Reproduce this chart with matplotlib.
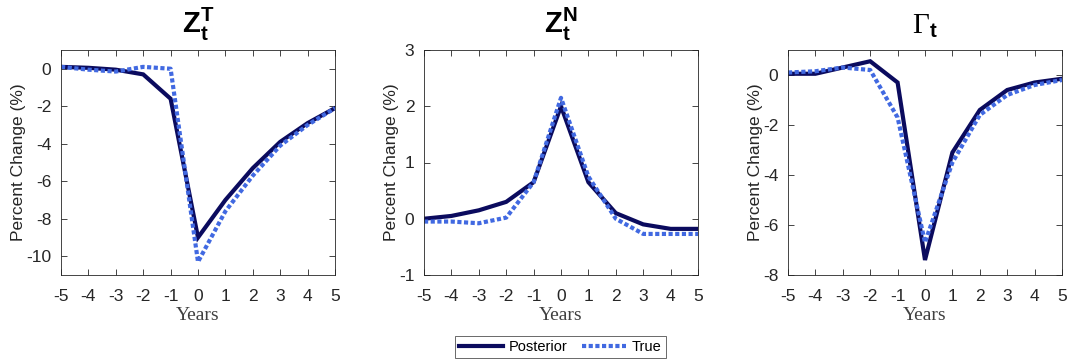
import matplotlib
matplotlib.use('Agg')
import matplotlib.pyplot as plt
from matplotlib.lines import Line2D

plt.rcParams['font.family'] = ['Liberation Sans', 'DejaVu Sans']
plt.rcParams['axes.unicode_minus'] = False
plt.rcParams['mathtext.fontset'] = 'custom'
plt.rcParams['mathtext.rm'] = 'Liberation Serif'
plt.rcParams['mathtext.it'] = 'Liberation Serif:italic'
plt.rcParams['mathtext.bf'] = 'Liberation Sans:bold'

years = [-5, -4, -3, -2, -1, 0, 1, 2, 3, 4, 5]

# Z_t^T
zt_post = [0.1, 0.05, -0.05, -0.3, -1.6, -9.0, -7.0, -5.3, -3.9, -2.9, -2.1]
zt_true = [0.1, -0.05, -0.15, 0.1, 0.0, -10.3, -7.6, -5.7, -4.1, -3.0, -2.1]
# Z_t^N
zn_post = [0.0, 0.05, 0.15, 0.3, 0.65, 2.0, 0.65, 0.1, -0.1, -0.18, -0.18]
zn_true = [-0.05, -0.05, -0.08, 0.02, 0.65, 2.15, 0.75, 0.0, -0.27, -0.27, -0.27]
# Gamma_t
gm_post = [0.05, 0.05, 0.3, 0.55, -0.3, -7.4, -3.1, -1.4, -0.6, -0.3, -0.15]
gm_true = [0.1, 0.15, 0.3, 0.2, -1.7, -6.7, -3.5, -1.6, -0.8, -0.4, -0.2]

titles = [r'$\mathbf{Z_t^T}$', r'$\mathbf{Z_t^N}$', r'$\Gamma_{\mathbf{t}}$']
posts = [zt_post, zn_post, gm_post]
trues = [zt_true, zn_true, gm_true]
ylims = [(-11, 1), (-1, 3), (-8, 1)]
yticks = [[-10, -8, -6, -4, -2, 0], [-1, 0, 1, 2, 3], [-8, -6, -4, -2, 0]]
lefts = [61, 424, 788]

navy = '#0b0b5e'
blue = '#4169e1'

fig = plt.figure(figsize=(10.69, 3.62), dpi=100)
W, H = 1069, 362
for i in range(3):
    ax = fig.add_axes([lefts[i] / W, 1 - 275 / H, 274 / W, 225 / H])
    ax.plot(years, posts[i], color=navy, lw=3.0, solid_joinstyle='miter')
    ax.plot(years, trues[i], color=blue, lw=3.0, linestyle=(0, (1.0, 0.6)))
    ax.set_xlim(-5, 5)
    ax.set_ylim(*ylims[i])
    ax.set_xticks(years)
    ax.set_yticks(yticks[i])
    ax.tick_params(direction='in', top=True, right=True, labelsize=12.5,
                   colors='#262626', length=4, width=0.6)
    ax.tick_params(axis='x', pad=10)
    ax.tick_params(axis='y', pad=7)
    for s in ax.spines.values():
        s.set_color('#262626')
        s.set_linewidth(0.6)
    ax.set_xlabel('Years', family='Liberation Serif', fontsize=14, color='#404040', labelpad=2)
    ax.set_ylabel('Percent Change (%)', fontsize=12.5, color='#262626', labelpad=0)
    ax.set_title(titles[i], fontsize=21, pad=12)

handles = [Line2D([], [], color=navy, lw=3.0),
           Line2D([], [], color=blue, lw=3.0, linestyle=(0, (1.0, 0.6)))]
leg = fig.legend(handles, ['Posterior', 'True'], loc='center', ncol=2,
                 bbox_to_anchor=(560 / W, 1 - 347 / H), fontsize=10.5,
                 frameon=True, fancybox=False, handlelength=3.0,
                 borderpad=0.3, columnspacing=1.0, handletextpad=0.4,
                 borderaxespad=0)
leg.get_frame().set_edgecolor('#262626')
leg.get_frame().set_linewidth(0.6)

fig.savefig('out.png', dpi=100)
